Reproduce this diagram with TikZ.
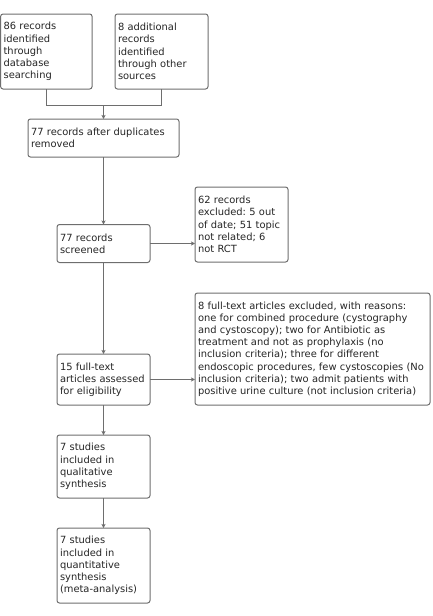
\documentclass[tikz,border=0pt]{standalone}
\usepackage{fontspec}
\setmainfont{DejaVu Sans}
\usetikzlibrary{arrows.meta}
\definecolor{linegray}{HTML}{6E6E6E}
\definecolor{textgray}{HTML}{262626}
\frenchspacing
\begin{document}
\begin{tikzpicture}[x=1pt,y=-1pt,
  box/.style={draw=linegray, rounded corners=2.5pt, line width=1pt, fill=white,
    anchor=north west, align=left, inner xsep=3pt, inner ysep=1pt, outer sep=0pt,
    font=\fontsize{9.9}{12.2}\selectfont, text=textgray},
  conn/.style={draw=linegray, line width=1pt},
  arr/.style={conn, -{Stealth[length=4pt,width=4pt,inset=1pt]}}]
\useasboundingbox (0,0) rectangle (433,616);

\node[box, text width=85.5pt, minimum height=75pt] (A) at (0.6,14)
  {86 records\\identified\\through\\database\\searching};
\node[box, text width=87pt, minimum height=75pt] (B) at (115,14)
  {8 additional\\records\\identified\\through other\\sources};
\node[box, text width=145pt, minimum height=38pt] (C) at (28,119)
  {77 records after duplicates\\removed};
\node[box, text width=87pt, minimum height=38pt] (D) at (57,224.5)
  {77 records\\screened};
\node[box, text width=87pt, minimum height=75pt] (E) at (195,187)
  {62 records\\excluded: 5 out\\of date; 51 topic\\not related; 6\\not RCT};
\node[box, text width=87pt, minimum height=51pt] (F) at (57,354)
  {15 full-text\\articles assessed\\for eligibility};
\node[box, text width=229pt, minimum height=112pt] (G) at (195,293)
  {8 full-text articles excluded, with reasons:\\one for combined procedure (cystography\\and cystoscopy); two for Antibiotic as\\treatment and not as prophylaxis (no\\inclusion criteria); three for different\\endoscopic procedures, few cystoscopies (No\\inclusion criteria); two admit patients with\\positive urine culture (not inclusion criteria)};
\node[box, text width=87pt, minimum height=63pt] (H) at (57,435)
  {7 studies\\included in\\qualitative\\synthesis};
\node[box, text width=87pt, minimum height=75pt] (I) at (57,528)
  {7 studies\\included in\\quantitative\\synthesis\\(meta-analysis)};

\coordinate (J) at (103.5,105.5);
\draw[conn] (A.south) |- (J);
\draw[conn] (B.south) |- (J);
\draw[arr] (J) -- (C.north);
\draw[arr] (C.south) -- (D.north);
\draw[arr] (D.east) -- (D.east -| E.west);
\draw[arr] (D.south) -- (F.north);
\draw[arr] (F.east) -- (F.east -| G.west);
\draw[arr] (F.south) -- (H.north);
\draw[arr] (H.south) -- (I.north);
\end{tikzpicture}
\end{document}
